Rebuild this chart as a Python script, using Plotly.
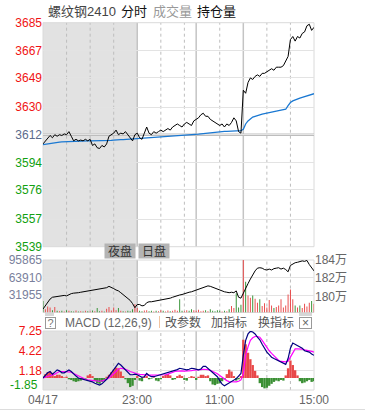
import plotly.graph_objects as go

# ---------------- data ----------------
minutes = list(range(0, 346, 3))  # session minute index, 21:00 -> 15:00 (345 trading minutes)

price = [
    3606, 3608, 3610, 3611.5, 3610, 3612, 3611, 3612, 3611.5, 3612.5,
    3612, 3614, 3611, 3608, 3609, 3608, 3608.5, 3608, 3609, 3608,
    3609, 3605, 3606, 3603.5, 3603, 3605, 3604, 3606, 3611, 3612,
    3613, 3615, 3612, 3613, 3612.5, 3614, 3612, 3610, 3608, 3612,
    3613, 3610, 3609, 3613, 3617, 3613, 3612, 3614, 3613, 3614,
    3615, 3614, 3615, 3616, 3615, 3617, 3618, 3619, 3618, 3617,
    3619, 3620, 3619, 3618, 3621, 3622, 3623, 3625, 3626, 3624,
    3624, 3622, 3621, 3620, 3619, 3618, 3619, 3617, 3619, 3618,
    3620, 3623, 3621, 3614, 3613, 3641, 3639, 3646, 3649, 3648,
    3650, 3651, 3650, 3652, 3652, 3653, 3654, 3655, 3654, 3656,
    3656, 3656, 3657, 3660, 3663, 3674, 3676, 3673, 3676, 3675,
    3678, 3679, 3683, 3684, 3680, 3682,
]

avg_price = [
    3605.5, 3605.8, 3606.1, 3606.4, 3606.6, 3606.8, 3607.0, 3607.2, 3607.3, 3607.4,
    3607.5, 3607.7, 3607.8, 3607.9, 3608.0, 3608.0, 3608.0, 3608.0, 3608.0, 3608.0,
    3608.0, 3608.0, 3608.0, 3608.0, 3608.0, 3608.0, 3608.0, 3608.0, 3608.1, 3608.3,
    3608.5, 3608.7, 3608.7, 3608.8, 3608.8, 3608.9, 3609.0, 3609.1, 3609.2, 3609.3,
    3609.4, 3609.5, 3609.6, 3609.7, 3609.9, 3610.0, 3610.1, 3610.3, 3610.4, 3610.5,
    3610.6, 3610.7, 3610.8, 3610.9, 3611.0, 3611.1, 3611.2, 3611.3, 3611.4, 3611.5,
    3611.6, 3611.7, 3611.8, 3611.9, 3612.0, 3612.2, 3612.4, 3612.6, 3612.8, 3613.0,
    3613.2, 3613.4, 3613.6, 3613.8, 3614.0, 3614.1, 3614.1, 3614.2, 3614.2, 3614.3,
    3614.3, 3614.4, 3614.5, 3614.6, 3614.7, 3615.5, 3619.0, 3621.0, 3622.5, 3623.5,
    3624.0, 3624.6, 3625.0, 3625.4, 3625.8, 3626.2, 3626.5, 3626.8, 3627.1, 3627.4,
    3627.7, 3628.0, 3628.3, 3628.6, 3631.0, 3633.0, 3634.0, 3634.8, 3635.4, 3635.9,
    3636.4, 3636.9, 3637.4, 3637.9, 3638.3, 3638.7,
]

volume = [
    21000, 6000, 11000, 9000, 4000, 10000, 3000, 2500, 3000, 2000,
    4000, 3000, 2500, 2000, 3500, 2000, 2500, 2000, 3000, 2500,
    2000, 3500, 2500, 8000, 2500, 3000, 2000, 7000, 10000, 3500,
    9000, 4000, 8000, 3000, 2500, 2000, 3000, 2500, 6000, 15000,
    8000, 3000, 2500, 3500, 4000, 2500, 3000, 2000, 3000, 2500,
    4000, 3000, 2000, 3500, 2500, 3000, 5000, 3000, 24000, 3000,
    2500, 4000, 3000, 6000, 4000, 3000, 5000, 2500, 3000, 4000,
    2500, 6000, 3000, 2500, 4000, 3000, 2000, 3000, 2500, 6000,
    12000, 8000, 35000, 9000, 14000, 96000, 56000, 31000, 27000, 31000,
    25000, 18000, 24000, 12000, 17000, 9000, 23000, 13000, 8000, 10000,
    13000, 24000, 9000, 13000, 33000, 42000, 24000, 13000, 9000, 13000,
    8000, 16000, 11000, 18000, 21000, 16000,
]

open_interest_wan = [
    178.6, 179.0, 179.4, 179.7, 179.9, 179.95, 179.95, 180.0, 180.05, 180.1,
    180.05, 180.2, 180.3, 180.35, 180.35, 180.4, 180.45, 180.5, 180.5, 180.55,
    180.6, 180.7, 180.75, 180.8, 180.8, 180.85, 180.9, 180.95, 181.1, 181.0,
    180.85, 180.7, 180.6, 180.4, 180.2, 180.0, 179.8, 179.55, 179.2, 178.75,
    179.1, 179.1, 178.95, 179.0, 179.3, 179.4, 179.4, 179.45, 179.5, 179.55,
    179.6, 179.6, 179.65, 179.7, 179.8, 179.9, 180.0, 180.05, 180.15, 180.2,
    180.3, 180.35, 180.45, 180.5, 180.6, 180.7, 180.8, 180.9, 181.0, 181.1,
    181.15, 181.1, 181.0, 180.9, 180.8, 180.65, 180.55, 180.5, 180.45, 180.4,
    180.45, 180.4, 180.6, 179.9, 179.8, 180.4, 180.9, 181.4, 181.9, 182.4,
    182.8, 183.1, 183.15, 183.1, 182.95, 182.9, 183.0, 182.9, 183.05, 183.1,
    183.15, 183.0, 183.1, 182.95, 182.7, 183.4, 183.6, 183.7, 183.75, 183.8,
    183.9, 183.85, 183.95, 183.5, 183.1, 182.8,
]

dif = [
    0, 0.4, 0.8, 1.0, 0.6, 0.9, 1.25, 1.1, 0.8, 0.8,
    1.0, 1.25, 1.0, 0.6, 0.3, 0.0, -0.1, -0.2, -0.3, -0.3,
    -0.4, -0.6, -0.8, -1.0, -1.1, -0.9, -0.6, -0.2, 0.3, 0.8,
    1.4, 1.9, 2.27, 2.0, 1.6, 1.2, 0.8, 0.5, 0.5, 0.6,
    0.5, 0.3, 0.1, 0.2, 0.7, 0.4, 0.2, 0.2, 0.3, 0.4,
    0.6, 0.7, 0.8, 0.9, 0.9, 1.0, 1.1, 1.3, 1.5, 1.4,
    1.3, 1.25, 1.35, 1.5, 1.45, 1.3, 1.25, 1.4, 1.8, 1.8,
    1.5, 1.2, 0.9, 0.6, 0.2, -0.4, -0.95, -1.2, -1.0, -0.7,
    -0.5, -0.3, -0.1, 0.3, 0.7, 3.5, 5.8, 6.8, 7.2, 7.1,
    6.8, 6.3, 5.9, 5.2, 4.5, 4.0, 3.6, 3.2, 3.0, 2.8,
    2.6, 2.4, 2.3, 2.1, 3.0, 4.6, 5.4, 5.2, 4.9, 4.8,
    4.6, 4.2, 4.1, 4.0, 3.7, 3.5,
]

dea = [
    0, 0.1, 0.2, 0.3, 0.4, 0.6, 0.8, 1.0, 1.0, 1.0,
    1.0, 1.0, 0.9, 0.7, 0.5, 0.3, 0.1, -0.1, -0.2, -0.3,
    -0.35, -0.4, -0.45, -0.5, -0.5, -0.45, -0.35, -0.2, 0.0, 0.3,
    0.6, 1.0, 1.4, 1.5, 1.45, 1.35, 1.2, 1.0, 0.85, 0.75,
    0.65, 0.55, 0.5, 0.45, 0.45, 0.45, 0.45, 0.45, 0.45, 0.45,
    0.5, 0.5, 0.5, 0.6, 0.75, 0.9, 1.0, 1.05, 1.1, 1.1,
    1.05, 1.05, 1.1, 1.15, 1.2, 1.2, 1.25, 1.3, 1.35, 1.35,
    1.3, 1.2, 1.05, 0.85, 0.65, 0.4, 0.1, -0.2, -0.4, -0.55,
    -0.6, -0.6, -0.6, -0.5, -0.3, 0.6, 3.5, 4.8, 5.8, 6.2,
    6.4, 6.4, 6.3, 5.8, 5.2, 4.7, 4.2, 3.8, 3.4, 3.0,
    2.7, 2.55, 2.5, 2.5, 2.6, 3.2, 4.0, 4.5, 4.5, 4.5,
    4.45, 4.35, 4.3, 4.2, 4.1, 4.0,
]

macd_hist = [
    0.2, 0.6, 0.9, 1.0, 0.8, 0.3, 0.5, 0.5, 0.3, 0.1,
    0.2, -0.2, -0.3, -0.5, -0.6, -0.5, -0.4, -0.2, -0.1, 0.4,
    0.6, 0.3, -0.5, -0.8, -0.9, -0.6, -0.3, 0.2, 0.5, 0.9,
    1.3, 1.6, 1.5, 1.0, 0.3, -0.2, -0.8, -1.4, -1.2, -0.3,
    0.3, -0.4, -0.5, 0.2, 0.3, -0.2, -0.1, 0.1, -0.4, -0.5,
    -0.2, 0.3, 0.5, 0.6, 0.4, -0.3, -0.2, 0.3, 0.5, 0.3,
    -0.3, -0.4, 0.1, 0.3, 0.2, -0.3, 0.2, 0.5, 0.5, 0.3,
    0.4, -0.5, -1.0, -1.1, -0.9, -0.8, -0.5, -0.2, 0.6, 1.3,
    1.0, 0.3, -0.4, -0.2, 0.3, 5.9, 5.2, 3.9, 2.9, 2.0,
    1.1, 0.4, -0.8, -1.4, -1.6, -1.5, -1.2, -0.9, -0.6, -0.4,
    -0.5, -0.3, -0.4, 0.4, 1.5, 2.7, 2.0, 1.2, 0.4, -0.5,
    -0.8, -0.7, -0.5, -0.3, -0.6, -0.5,
]

base_price = 3612
price_ticks = [3539, 3557, 3576, 3594, 3612, 3630, 3649, 3667, 3685]
pct_labels = ['2.02%', '1.52%', '1.01%', '0.51%', '0.00%', '0.51%', '1.01%', '1.52%', '2.02%']
vol_ticks = [31955, 63910, 95865]
oi_ticks = [180, 182, 184]
oi_labels = ['180万', '182万', '184万']
macd_ticks = [1.18, 4.22, 7.25]
macd_low = -1.85
time_ticks = [0, 120, 225, 345]
time_labels = ['04/17', '23:00', '11:00', '15:00']
night_end = 120
dotted_lines = [30, 60, 90, 150, 180, 225, 285, 315]
solid_lines = [120, 195, 255]

# ---------------- styling ----------------
W, H = 365, 413
ML, MR = 43, 51
PW = W - ML - MR
RED = '#f01414'
GREEN = '#11a011'
NEUTRAL = '#5b6b8c'
FONT = 'Liberation Sans, Arial, Noto Sans CJK SC, sans-serif'


def px_x(px):
    return (px - ML) / PW


def px_y(py):
    return 1 - py / H


def colored(text, color):
    return "<span style='color:%s'>%s</span>" % (color, text)


main_dom = [px_y(246.7), px_y(22.7)]
vol_dom = [px_y(312.5), px_y(260)]
macd_dom = [px_y(390), px_y(331)]

price_text = []
pct_text = []
for v, p in zip(price_ticks, pct_labels):
    c = RED if v > base_price else (GREEN if v < base_price else NEUTRAL)
    price_text.append(colored(str(v), c))
    pct_text.append(colored(p, c))

vol_colors = []
prev = base_price
for p in price:
    vol_colors.append('#e84545' if p >= prev else '#2f8f2f')
    prev = p
hist_colors = ['#e84848' if h >= 0 else '#3a8f33' for h in macd_hist]

fig = go.Figure()
fig.add_trace(go.Scatter(x=minutes, y=avg_price, mode='lines', line=dict(color='#1a78d2', width=1.3),
                         xaxis='x', yaxis='y'))
fig.add_trace(go.Scatter(x=minutes, y=price, mode='lines', line=dict(color='#000000', width=1),
                         xaxis='x', yaxis='y'))
fig.add_trace(go.Bar(x=minutes, y=volume, width=1.2, marker=dict(color=vol_colors, line=dict(width=0)),
                     xaxis='x', yaxis='y3'))
fig.add_trace(go.Scatter(x=minutes, y=open_interest_wan, mode='lines', line=dict(color='#000000', width=1),
                         xaxis='x', yaxis='y4'))
fig.add_trace(go.Bar(x=minutes, y=macd_hist, width=3, marker=dict(color=hist_colors, line=dict(width=0)),
                     xaxis='x', yaxis='y5'))
fig.add_trace(go.Scatter(x=minutes, y=dea, mode='lines', line=dict(color='#ff00ff', width=1.2),
                         xaxis='x', yaxis='y5'))
fig.add_trace(go.Scatter(x=minutes, y=dif, mode='lines', line=dict(color='#000080', width=1.2),
                         xaxis='x', yaxis='y5'))

shapes = []
for yr in ['y', 'y3', 'y5']:
    shapes.append(dict(type='rect', xref='x', yref=yr + ' domain', x0=0, x1=night_end, y0=0, y1=1,
                       fillcolor='#e2e2e2', line=dict(width=0), layer='below'))
for yr in ['y', 'y3', 'y5']:
    for m in dotted_lines:
        shapes.append(dict(type='line', xref='x', yref=yr + ' domain', x0=m, x1=m, y0=0, y1=1,
                           line=dict(color='#bdbdbd', width=1, dash='dot'), layer='below'))
    for m in solid_lines:
        shapes.append(dict(type='line', xref='x', yref=yr + ' domain', x0=m, x1=m, y0=0, y1=1,
                           line=dict(color='#c4c4c4', width=1.5), layer='below'))
    shapes.append(dict(type='rect', xref='x domain', yref=yr + ' domain', x0=0, x1=1, y0=0, y1=1,
                       line=dict(color='#dadada', width=1), layer='below'))
shapes.append(dict(type='line', xref='x domain', yref='y', x0=0, x1=1, y0=base_price, y1=base_price,
                   line=dict(color='#bdbdbd', width=2.5), layer='below'))
# header separator and bottom rule
shapes.append(dict(type='line', xref='paper', yref='paper', x0=px_x(159.5), x1=px_x(159.5),
                   y0=px_y(328), y1=px_y(316), line=dict(color='#f2c4a0', width=1)))
shapes.append(dict(type='line', xref='paper', yref='paper', x0=px_x(0), x1=px_x(W),
                   y0=px_y(409.5), y1=px_y(409.5), line=dict(color='#dddddd', width=1)))
# scrollbar tabs under volume panel
for a, b in [(45, 54), (299, 312)]:
    shapes.append(dict(type='rect', xref='paper', yref='paper', x0=px_x(a), x1=px_x(b),
                       y0=px_y(316), y1=px_y(313), fillcolor='#d6d6d6', line=dict(width=0)))

ann = []


def text(px, py, s, color, size=12, xanchor='left', **kw):
    ann.append(dict(xref='paper', yref='paper', x=px_x(px), y=px_y(py), text=s, showarrow=False,
                    xanchor=xanchor, yanchor='middle', font=dict(family=FONT, size=size, color=color), **kw))


text(46, 12, '螺纹钢2410', '#444444', 13)
text(118.5, 12, '分时', '#111111', 13)
text(150.5, 12, '成交量', '#999999', 13)
text(194.5, 12, '持仓量', '#111111', 13)
text(120, 251, '夜盘', '#333333', 12, xanchor='center', bgcolor='#b4b4b4', width=30, height=14, borderpad=0)
text(154, 251, '日盘', '#333333', 12, xanchor='center', bgcolor='#b4b4b4', width=30, height=14, borderpad=0)
text(50, 322.5, '?', '#777777', 11, xanchor='center', bordercolor='#999999', borderwidth=1, width=9,
     height=10, borderpad=0)
text(62.5, 322.5, 'MACD (12,26,9)', '#666666', 12)
text(163, 322.5, '改参数', '#555555', 12)
text(209, 322.5, '加指标', '#555555', 12)
text(255.5, 322.5, '换指标', '#555555', 12)
text(305, 322.5, '×', '#666666', 12, xanchor='center', bordercolor='#999999', borderwidth=1, width=11,
     height=10, borderpad=0)
ann.append(dict(xref='paper', yref='y5', x=0, y=macd_low, xanchor='right', yanchor='middle', xshift=-3,
                yshift=5, text=str(macd_low), showarrow=False, font=dict(family=FONT, size=12, color=GREEN)))
# time labels under the MACD panel
for m, lab in zip(time_ticks, time_labels):
    ann.append(dict(xref='x', yref='paper', x=m, y=px_y(400), xanchor='center', yanchor='middle',
                    text=lab, showarrow=False, font=dict(family=FONT, size=12, color='#666666')))

axis_font = dict(family=FONT, size=12)
fig.update_layout(
    width=W, height=H, margin=dict(l=ML, r=MR, t=0, b=0),
    paper_bgcolor='white', plot_bgcolor='white', showlegend=False, hovermode=False,
    barmode='overlay',
    xaxis=dict(domain=[0, 1], anchor='y5', range=[0, 345], showticklabels=False,
               showgrid=False, zeroline=False, showline=False, ticks='', automargin=False),
    yaxis=dict(domain=main_dom, anchor='x', range=[price_ticks[0], price_ticks[-1]], tickvals=price_ticks,
               ticktext=price_text, showgrid=True, gridcolor='#e3e3e3', zeroline=False, ticks='',
               tickfont=axis_font, automargin=False),
    yaxis2=dict(overlaying='y', anchor='x', side='right', range=[price_ticks[0], price_ticks[-1]],
                tickvals=price_ticks, ticktext=pct_text, showgrid=False, zeroline=False, ticks='',
                tickfont=axis_font, automargin=False),
    yaxis3=dict(domain=vol_dom, anchor='x', range=[0, vol_ticks[-1]], tickvals=vol_ticks,
                ticktext=[str(v) for v in vol_ticks], showgrid=True, gridcolor='#e3e3e3', zeroline=False,
                ticks='', tickfont=dict(axis_font, color='#7a7f9c'), automargin=False),
    yaxis4=dict(overlaying='y3', anchor='x', side='right', range=[178.22, 184.0], tickvals=oi_ticks,
                ticktext=oi_labels, showgrid=False, zeroline=False, ticks='',
                tickfont=dict(axis_font, color='#666666'), automargin=False),
    yaxis5=dict(domain=macd_dom, anchor='x', range=[macd_low, macd_ticks[-1]], tickvals=macd_ticks,
                ticktext=[colored('%.2f' % v, RED) for v in macd_ticks], showgrid=True, gridcolor='#e3e3e3',
                zeroline=False, ticks='', tickfont=axis_font, automargin=False),
    shapes=shapes, annotations=ann,
)

fig.write_html('out.html', config={'displayModeBar': False, 'staticPlot': True},
               post_script="document.body.style.margin='0';")
